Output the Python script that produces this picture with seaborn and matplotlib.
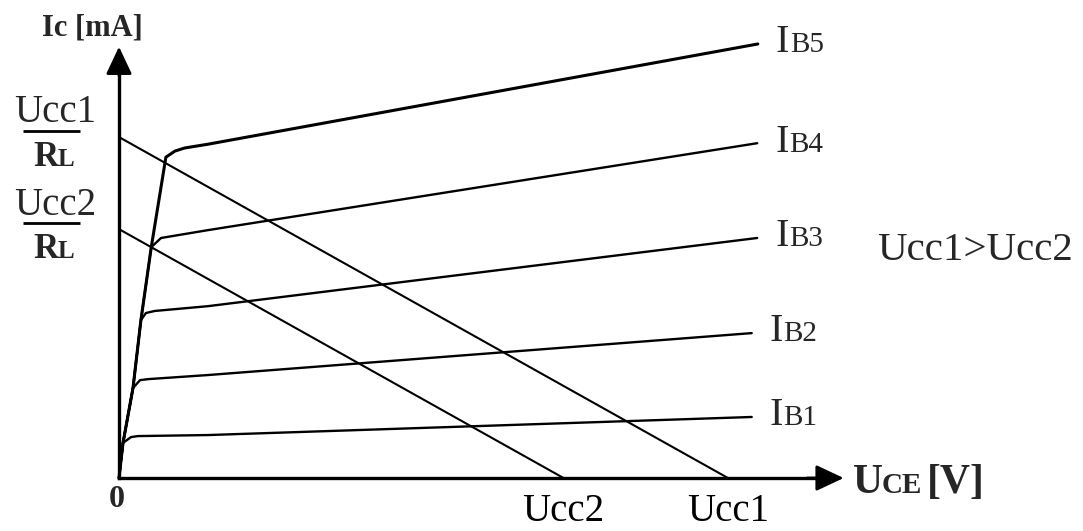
import numpy as np
import pandas as pd
import seaborn as sns
import matplotlib.pyplot as plt

# output characteristics Ic(Uce) for five base currents (arbitrary units)
ib_labels = ['B1', 'B2', 'B3', 'B4', 'B5']
uce_ib1 = [0, 0.03, 0.066, 0.197, 0.31, 1.46, 10.39]
ic_ib1 = [0, 0.50, 1.03, 1.20, 1.23, 1.26, 1.79]
uce_ib2 = [0, 0.066, 0.23, 0.345, 0.476, 1.46, 10.39]
ic_ib2 = [0, 1.03, 2.64, 2.87, 2.90, 3.02, 4.25]
uce_ib3 = [0, 0.066, 0.23, 0.36, 0.443, 0.59, 1.46, 10.48]
ic_ib3 = [0, 1.03, 2.64, 4.63, 4.84, 4.90, 5.04, 7.04]
uce_ib4 = [0, 0.066, 0.23, 0.36, 0.53, 0.69, 1.46, 10.48]
ic_ib4 = [0, 1.03, 2.64, 4.63, 6.77, 7.04, 7.27, 9.82]
uce_ib5 = [0, 0.066, 0.23, 0.36, 0.53, 0.77, 0.92, 1.08, 1.46, 10.49]
ic_ib5 = [0, 1.03, 2.64, 4.63, 6.77, 9.41, 9.59, 9.68, 9.79, 12.73]

# supply voltages (load lines with RL = 1)
ucc_labels = ['Ucc1', 'Ucc2']
ucc_values = [10.0, 7.3]
rl = 1.0

curves = [(uce_ib1, ic_ib1), (uce_ib2, ic_ib2), (uce_ib3, ic_ib3),
          (uce_ib4, ic_ib4), (uce_ib5, ic_ib5)]
curve_lw = [1.7, 1.7, 1.7, 1.7, 2.2]

sns.set_style('white')
plt.rcParams['font.family'] = ['Liberation Serif', 'DejaVu Serif']

fig = plt.figure(figsize=(10.83, 5.31), dpi=100)
ax = fig.add_axes([0, 0, 1, 1])
ax.set_xlim(-1.954, 15.83)
ax.set_ylim(-1.554, 14.02)

for (x, y), name, lw in zip(curves, ib_labels, curve_lw):
    df = pd.DataFrame({'uce': x, 'ic': y})
    sns.lineplot(data=df, x='uce', y='ic', sort=False, estimator=None,
                 color='black', lw=lw, ax=ax)
    ax.annotate('I', xy=(x[-1], y[-1]), xytext=(13, -6), textcoords='offset points',
                fontsize=29, va='baseline', ha='left')
    ax.annotate(name, xy=(x[-1], y[-1]), xytext=(23, -6), textcoords='offset points',
                fontsize=21, va='baseline', ha='left')

for ucc in ucc_values:
    load = pd.DataFrame({'uce': [0, ucc], 'ic': [ucc / rl, 0]})
    sns.lineplot(data=load, x='uce', y='ic', sort=False, estimator=None,
                 color='black', lw=1.5, ax=ax)

# axes with arrows
for s in ['top', 'right']:
    ax.spines[s].set_visible(False)
for s in ['left', 'bottom']:
    ax.spines[s].set_position(('data', 0))
    ax.spines[s].set_linewidth(2.4)
    ax.spines[s].set_color('black')
ax.spines['left'].set_bounds(0, 11.9)
ax.spines['bottom'].set_bounds(0, 11.55)
arrow = dict(arrowstyle='-|>,head_length=0.85,head_width=0.4', color='black',
             lw=2.0, mutation_scale=20, shrinkA=0, shrinkB=0)
ax.annotate('', xy=(11.9, 0), xytext=(11.3, 0), arrowprops=arrow)
ax.annotate('', xy=(0, 12.65), xytext=(0, 11.8), arrowprops=arrow)

ax.set_xticks(ucc_values)
ax.set_xticklabels(ucc_labels, fontsize=28)
ax.set_yticks(ucc_values)
ax.set_yticklabels([])
ax.tick_params(axis='x', direction='inout', length=9, width=1.3, pad=6, colors='black')
ax.tick_params(axis='y', direction='inout', length=10, width=1.3, colors='black')
ax.set_xlabel('')
ax.set_ylabel('')

# fraction labels Ucc/RL on the y axis
for lab, ucc in zip(ucc_labels, ucc_values):
    ax.annotate(lab, xy=(0, ucc), xytext=(-46, 10.5), textcoords='offset points',
                fontsize=28, ha='center', va='baseline')
    ax.hlines(ucc + 0.18, -1.58, -0.64, color='black', lw=2.0)
    ax.annotate('R', xy=(0, ucc), xytext=(-62, -21), textcoords='offset points',
                fontsize=25, fontweight='bold', ha='left', va='baseline')
    ax.annotate('L', xy=(0, ucc), xytext=(-44, -21), textcoords='offset points',
                fontsize=18, fontweight='bold', ha='left', va='baseline')

# axis titles
ax.text(-0.44, 12.99, 'Ic [mA]', fontsize=22, fontweight='bold', ha='center', va='baseline')
ax.text(-0.03, -0.62, '0', fontsize=23, fontweight='bold', ha='center', va='center')
ax.annotate('U', xy=(12.05, -0.44), xytext=(0, 0), textcoords='offset points',
            fontsize=30, fontweight='bold', va='baseline')
ax.annotate('CE', xy=(12.05, -0.44), xytext=(21, 0), textcoords='offset points',
            fontsize=21, fontweight='bold', va='baseline')
ax.annotate('[V]', xy=(12.05, -0.44), xytext=(53, 0), textcoords='offset points',
            fontsize=30, fontweight='bold', va='baseline')
ax.text(12.45, 6.39, 'Ucc1>Ucc2', fontsize=29.5, ha='left', va='baseline')

fig.savefig('out.png', dpi=100)
